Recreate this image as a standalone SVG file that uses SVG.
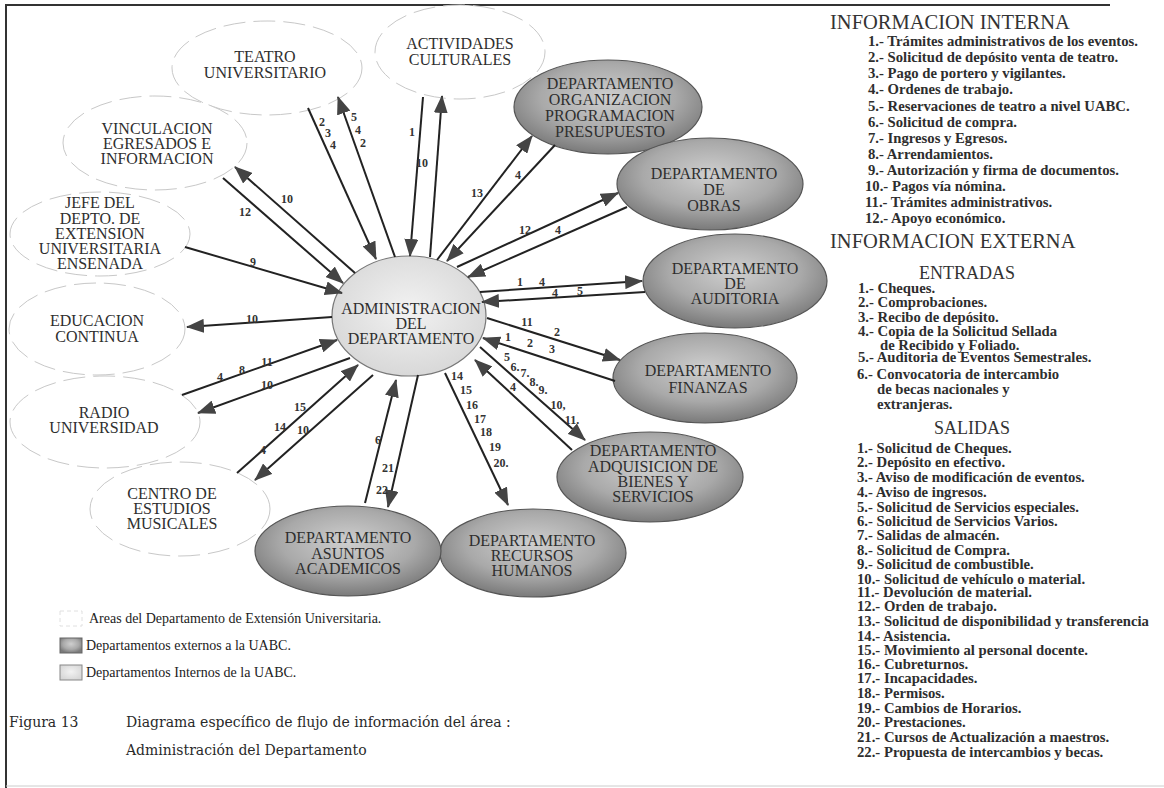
<svg xmlns="http://www.w3.org/2000/svg" width="1164" height="788" viewBox="0 0 1164 788">
<style>
.node{font-family:"Liberation Serif",serif;font-size:16px;fill:#2e2e2e;text-anchor:middle}
.wn{fill:#fff;stroke:#c8c8c8;stroke-width:1;stroke-dasharray:22 8}
.gn{fill:url(#gg);stroke:#555;stroke-width:1.2}
.cn{stroke:#222;stroke-width:2;fill:none;marker-end:url(#ah)}
.lb{font-family:"Liberation Serif",serif;font-size:12px;font-weight:bold;fill:#333;text-anchor:middle}
.hd{font-family:"Liberation Serif",serif;font-size:20.5px;fill:#333}
.sh{font-family:"Liberation Serif",serif;font-size:18px;fill:#333;text-anchor:middle}
.it{font-family:"Liberation Serif",serif;font-size:14.7px;font-weight:bold;fill:#2e2e2e}
.lg{font-family:"Liberation Serif",serif;font-size:14px;fill:#222}
.cap{font-family:"DejaVu Serif",serif;font-size:14px;fill:#2a2a2a}
</style>
<defs>
<radialGradient id="gg" cx="50%" cy="40%" r="60%">
<stop offset="0" stop-color="#cfcfcf"/>
<stop offset="0.6" stop-color="#a9a9a9"/>
<stop offset="1" stop-color="#7a7a7a"/>
</radialGradient>
<radialGradient id="lg" cx="50%" cy="45%" r="60%">
<stop offset="0" stop-color="#f2f2f2"/>
<stop offset="1" stop-color="#d6d6d6"/>
</radialGradient>
<marker id="ah" viewBox="0 0 18 14" refX="17" refY="7" markerWidth="18" markerHeight="14" markerUnits="userSpaceOnUse" orient="auto">
<path d="M0,0 L18,7 L0,14 Z" fill="#444"/>
</marker>
</defs>
<rect width="1164" height="788" fill="#fff"/>
<path d="M6,788 V5 H1110" stroke="#333" stroke-width="2" fill="none"/>
<line x1="6" y1="786" x2="1164" y2="786" stroke="#ccc" stroke-width="1"/>

<g id="n-teatro"><ellipse class="wn" cx="267" cy="68" rx="95" ry="47"/><text class="node" x="265" y="62">TEATRO</text><text class="node" x="265" y="78">UNIVERSITARIO</text></g>
<g id="n-actividades"><ellipse class="wn" cx="460" cy="52" rx="85" ry="47"/><text class="node" x="460" y="49">ACTIVIDADES</text><text class="node" x="460" y="65">CULTURALES</text></g>
<g id="n-vinculacion"><ellipse class="wn" cx="155" cy="143" rx="92" ry="47"/><text class="node" x="157" y="134">VINCULACION</text><text class="node" x="157" y="149">EGRESADOS E</text><text class="node" x="157" y="164">INFORMACION</text></g>
<g id="n-jefe"><ellipse class="wn" cx="100" cy="234" rx="90" ry="42"/><text class="node" x="100" y="208">JEFE DEL</text><text class="node" x="100" y="224">DEPTO. DE</text><text class="node" x="100" y="239">EXTENSION</text><text class="node" x="100" y="254">UNIVERSITARIA</text><text class="node" x="100" y="269">ENSENADA</text></g>
<g id="n-educacion"><ellipse class="wn" cx="97" cy="329" rx="88" ry="46"/><text class="node" x="97" y="326">EDUCACION</text><text class="node" x="97" y="342">CONTINUA</text></g>
<g id="n-radio"><ellipse class="wn" cx="105" cy="422" rx="95" ry="46"/><text class="node" x="104" y="418">RADIO</text><text class="node" x="104" y="433">UNIVERSIDAD</text></g>
<g id="n-centro"><ellipse class="wn" cx="180" cy="509" rx="90" ry="47"/><text class="node" x="172" y="499">CENTRO DE</text><text class="node" x="172" y="514">ESTUDIOS</text><text class="node" x="172" y="529">MUSICALES</text></g>

<g id="n-organizacion"><ellipse class="gn" cx="608" cy="107" rx="94" ry="47"/><text class="node" x="610" y="89">DEPARTAMENTO</text><text class="node" x="610" y="105">ORGANIZACION</text><text class="node" x="610" y="121">PROGRAMACION</text><text class="node" x="610" y="137">PRESUPUESTO</text></g>
<g id="n-obras"><ellipse class="gn" cx="710" cy="184" rx="93" ry="46"/><text class="node" x="714" y="179">DEPARTAMENTO</text><text class="node" x="714" y="195">DE</text><text class="node" x="714" y="211">OBRAS</text></g>
<g id="n-auditoria"><ellipse class="gn" cx="735" cy="281" rx="92" ry="47"/><text class="node" x="735" y="274">DEPARTAMENTO</text><text class="node" x="735" y="289">DE</text><text class="node" x="735" y="304">AUDITORIA</text></g>
<g id="n-finanzas"><ellipse class="gn" cx="705" cy="378" rx="92" ry="45"/><text class="node" x="708" y="376">DEPARTAMENTO</text><text class="node" x="708" y="393">FINANZAS</text></g>
<g id="n-adquisicion"><ellipse class="gn" cx="650" cy="477" rx="93" ry="45"/><text class="node" x="653" y="456">DEPARTAMENTO</text><text class="node" x="653" y="472">ADQUISICION DE</text><text class="node" x="653" y="487">BIENES Y</text><text class="node" x="653" y="502">SERVICIOS</text></g>
<g id="n-recursos"><ellipse class="gn" cx="533" cy="553" rx="93" ry="44"/><text class="node" x="532" y="546">DEPARTAMENTO</text><text class="node" x="532" y="561">RECURSOS</text><text class="node" x="532" y="576">HUMANOS</text></g>
<g id="n-asuntos"><ellipse class="gn" cx="348" cy="551" rx="93" ry="45"/><text class="node" x="348" y="543">DEPARTAMENTO</text><text class="node" x="348" y="559">ASUNTOS</text><text class="node" x="348" y="574">ACADEMICOS</text></g>
<g id="n-admin"><ellipse cx="409" cy="316" rx="77" ry="60" fill="url(#lg)" stroke="#777" stroke-width="1.2"/><text class="node" x="411" y="314">ADMINISTRACION</text><text class="node" x="411" y="329">DEL</text><text class="node" x="411" y="344">DEPARTAMENTO</text></g>

<g id="connectors">
<line class="cn" x1="308" y1="108" x2="376" y2="259"/>
<line class="cn" x1="395" y1="257" x2="338" y2="97"/>
<line class="cn" x1="423" y1="97" x2="410" y2="256"/>
<line class="cn" x1="430" y1="257" x2="442" y2="96"/>
<line class="cn" x1="437" y1="260" x2="532" y2="136"/>
<line class="cn" x1="555" y1="145" x2="447" y2="261"/>
<line class="cn" x1="457" y1="267" x2="618" y2="193"/>
<line class="cn" x1="627" y1="207" x2="468" y2="277"/>
<line class="cn" x1="480" y1="292" x2="642" y2="281"/>
<line class="cn" x1="645" y1="292" x2="482" y2="302"/>
<line class="cn" x1="487" y1="318" x2="620" y2="360"/>
<line class="cn" x1="615" y1="381" x2="483" y2="338"/>
<line class="cn" x1="480" y1="347" x2="585" y2="440"/>
<line class="cn" x1="572" y1="450" x2="475" y2="360"/>
<line class="cn" x1="445" y1="373" x2="508" y2="505"/>
<line class="cn" x1="418" y1="375" x2="388" y2="507"/>
<line class="cn" x1="365" y1="503" x2="396" y2="380"/>
<line class="cn" x1="237" y1="473" x2="358" y2="365"/>
<line class="cn" x1="373" y1="375" x2="255" y2="480"/>
<line class="cn" x1="182" y1="395" x2="337" y2="340"/>
<line class="cn" x1="350" y1="358" x2="198" y2="413"/>
<line class="cn" x1="332" y1="317" x2="187" y2="327"/>
<line class="cn" x1="185" y1="247" x2="342" y2="293"/>
<line class="cn" x1="223" y1="178" x2="343" y2="283"/>
<line class="cn" x1="355" y1="273" x2="235" y2="167"/>
<text class="lb" x="322" y="126">2</text><text class="lb" x="328" y="137">3</text><text class="lb" x="333" y="149">4</text>
<text class="lb" x="354" y="121">5</text><text class="lb" x="358" y="134">4</text><text class="lb" x="363" y="147">2</text>
<text class="lb" x="412" y="136">1</text>
<text class="lb" x="422" y="167">10</text>
<text class="lb" x="477" y="197">13</text>
<text class="lb" x="518" y="179">4</text>
<text class="lb" x="525" y="234">12</text>
<text class="lb" x="558" y="234">4</text>
<text class="lb" x="520" y="286">1</text><text class="lb" x="542" y="286">4</text>
<text class="lb" x="555" y="297">4</text><text class="lb" x="580" y="295">5</text>
<text class="lb" x="527" y="326">11</text><text class="lb" x="557" y="336">2</text>
<text class="lb" x="508" y="341">1</text><text class="lb" x="530" y="347">2</text><text class="lb" x="552" y="353">3</text>
<text class="lb" x="507" y="361">5</text><text class="lb" x="515" y="371">6.</text><text class="lb" x="525" y="377">7.</text><text class="lb" x="534" y="386">8.</text><text class="lb" x="543" y="394">9.</text><text class="lb" x="558" y="409">10,</text><text class="lb" x="572" y="424">11.</text>
<text class="lb" x="513" y="391">4</text>
<text class="lb" x="457" y="380">14</text><text class="lb" x="466" y="394">15</text><text class="lb" x="472" y="409">16</text><text class="lb" x="480" y="423">17</text><text class="lb" x="486" y="436">18</text><text class="lb" x="495" y="451">19</text><text class="lb" x="501" y="467">20.</text>
<text class="lb" x="388" y="472">21</text><text class="lb" x="382" y="494">22</text>
<text class="lb" x="378" y="444">6</text>
<text class="lb" x="263" y="454">4</text><text class="lb" x="280" y="431">14</text><text class="lb" x="300" y="411">15</text>
<text class="lb" x="303" y="434">10</text>
<text class="lb" x="220" y="381">4</text><text class="lb" x="242" y="374">8</text><text class="lb" x="267" y="366">11</text>
<text class="lb" x="267" y="389">10</text>
<text class="lb" x="252" y="323">10</text>
<text class="lb" x="253" y="266">9</text>
<text class="lb" x="245" y="216">12</text>
<text class="lb" x="287" y="203">10</text>
</g>

<g id="info">
<text class="hd" x="830" y="29">INFORMACION INTERNA</text>
<text class="it" x="868" y="46">1.- Trámites administrativos de los eventos.</text>
<text class="it" x="868" y="62">2.- Solicitud de depósito venta de teatro.</text>
<text class="it" x="868" y="78">3.- Pago de portero y vigilantes.</text>
<text class="it" x="868" y="94">4.- Ordenes de trabajo.</text>
<text class="it" x="868" y="111">5.- Reservaciones de teatro a nivel UABC.</text>
<text class="it" x="868" y="127">6.- Solicitud de compra.</text>
<text class="it" x="868" y="143">7.- Ingresos y Egresos.</text>
<text class="it" x="868" y="159">8.- Arrendamientos.</text>
<text class="it" x="868" y="175">9.- Autorización y firma de documentos.</text>
<text class="it" x="865" y="191">10.- Pagos vía nómina.</text>
<text class="it" x="865" y="207">11.- Trámites administrativos.</text>
<text class="it" x="865" y="223">12.- Apoyo económico.</text>
<text class="hd" x="830" y="248">INFORMACION EXTERNA</text>
<text class="sh" x="967" y="279">ENTRADAS</text>
<text class="it" x="858" y="293">1.- Cheques.</text>
<text class="it" x="858" y="307">2.- Comprobaciones.</text>
<text class="it" x="858" y="322">3.- Recibo de depósito.</text>
<text class="it" x="858" y="336">4.- Copia de la Solicitud Sellada</text>
<text class="it" x="880" y="350">de Recibido y Foliado.</text>
<text class="it" x="858" y="362">5.- Auditoria de Eventos Semestrales.</text>
<text class="it" x="857" y="379">6.- Convocatoria de intercambio</text>
<text class="it" x="877" y="394">de becas nacionales y</text>
<text class="it" x="877" y="409">extranjeras.</text>
<text class="sh" x="972" y="434">SALIDAS</text>
<text class="it" x="857" y="453">1.- Solicitud de Cheques.</text>
<text class="it" x="857" y="467">2.- Depósito en efectivo.</text>
<text class="it" x="857" y="482">3.- Aviso de modificación de eventos.</text>
<text class="it" x="857" y="497">4.- Aviso de ingresos.</text>
<text class="it" x="857" y="512">5.- Solicitud de Servicios especiales.</text>
<text class="it" x="857" y="526">6.- Solicitud de Servicios Varios.</text>
<text class="it" x="857" y="540">7.- Salidas de almacén.</text>
<text class="it" x="857" y="555">8.- Solicitud de Compra.</text>
<text class="it" x="857" y="569">9.- Solicitud de combustible.</text>
<text class="it" x="857" y="584">10.- Solicitud de vehículo o material.</text>
<text class="it" x="857" y="597">11.- Devolución de material.</text>
<text class="it" x="857" y="611">12.- Orden de trabajo.</text>
<text class="it" x="857" y="626">13.- Solicitud de disponibilidad y transferencia</text>
<text class="it" x="857" y="641">14.- Asistencia.</text>
<text class="it" x="857" y="655">15.- Movimiento al personal docente.</text>
<text class="it" x="857" y="669">16.- Cubreturnos.</text>
<text class="it" x="857" y="683">17.- Incapacidades.</text>
<text class="it" x="857" y="698">18.- Permisos.</text>
<text class="it" x="857" y="713">19.- Cambios de Horarios.</text>
<text class="it" x="857" y="727">20.- Prestaciones.</text>
<text class="it" x="857" y="742">21.- Cursos de Actualización a maestros.</text>
<text class="it" x="857" y="757">22.- Propuesta de intercambios y becas.</text>
</g>

<g id="legend">
<rect x="60" y="611" width="22" height="15" fill="#fff" stroke="#e0e0e0" stroke-width="1" stroke-dasharray="4 3"/>
<text class="lg" x="89" y="623">Areas del Departamento de Extensión Universitaria.</text>
<rect x="60" y="638" width="22" height="15" fill="url(#gg)" stroke="#666" stroke-width="1"/>
<text class="lg" x="86" y="650">Departamentos externos a la UABC.</text>
<rect x="60" y="665" width="22" height="15" fill="url(#lg)" stroke="#888" stroke-width="1"/>
<text class="lg" x="86" y="677">Departamentos Internos de la UABC.</text>
<text class="cap" x="9" y="727">Figura 13</text>
<text class="cap" x="126" y="727">Diagrama específico de flujo de información del área :</text>
<text class="cap" x="126" y="755">Administración del Departamento</text>
</g>
</svg>
